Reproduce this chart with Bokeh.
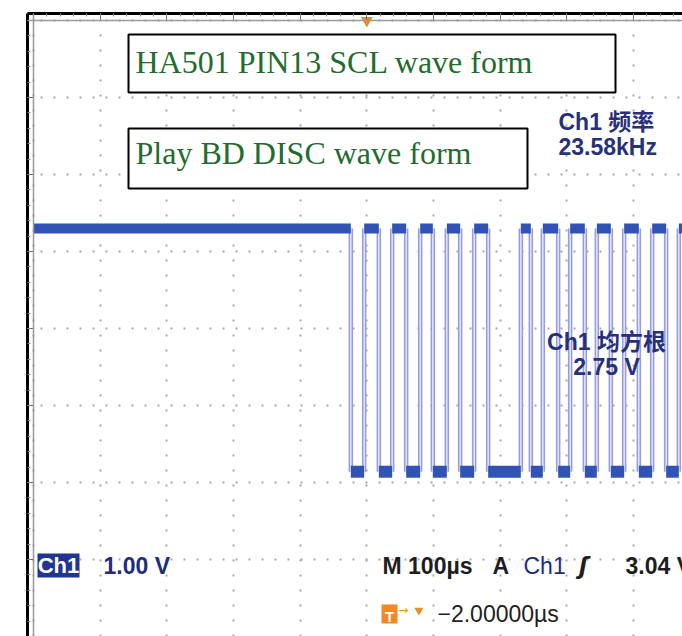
import numpy as np
from bokeh.plotting import figure
from bokeh.models import Range1d, FixedTicker, Span
from bokeh.core.properties import value
from bokeh.embed import file_html
from bokeh.resources import INLINE

# ---- scope settings / data ----
time_per_div_us = 100          # M 100us
volts_per_div = 1.00           # Ch1 1.00 V
ground_div = -1.86             # position of 0 V on screen (divisions from centre)
high_v = 3.16                  # SCL high level (V)
low_v = 0.0                    # SCL low level (V)
trace_start_us = 0
trace_end_us = 1000
# times (us from left edge of screen) where SCL toggles; starts high
edge_times_us = [476, 496, 518, 538, 559, 580, 599, 620, 640, 661, 682,
                 731, 746, 764, 787, 805, 827, 845, 866, 886, 908, 928, 949, 968]

x_ticks = list(range(0, 1001, time_per_div_us))
x_minor = list(range(0, 1001, time_per_div_us // 5))
y_ticks = list(range(-4, 5))
y_minor = [round(v, 1) for v in np.arange(-4, 4.01, 0.2)]

title1 = "HA501 PIN13 SCL wave form"
title2 = "Play BD DISC wave form"
freq_label = ["Ch1 频率", "23.58kHz"]
rms_label = ["Ch1 均方根", "2.75 V"]
ch_scale = "1.00 V"
timebase = "M 100µs"
trig_src = ["A", "Ch1"]
trig_level = "3.04 V"
trig_pos = "−2.00000µs"


def to_div(v):
    return v / volts_per_div + ground_div


p = figure(width=682, height=636, output_backend="svg", toolbar_location=None,
           x_range=Range1d(-9, 973.5), y_range=Range1d(-4.0, 4.091),
           min_border_left=27, min_border_top=13, min_border_right=0, min_border_bottom=0,
           x_axis_location="above", background_fill_color="white",
           border_fill_color="white", outline_line_color=None)

for ax, tk, mn in ((p.xaxis[0], x_ticks, x_minor), (p.yaxis[0], y_ticks, y_minor)):
    ax.ticker = FixedTicker(ticks=tk, minor_ticks=mn)
    ax.axis_line_color = "black"
    ax.axis_line_width = 3
    ax.major_tick_in = 6
    ax.major_tick_out = 0
    ax.minor_tick_in = 3
    ax.minor_tick_out = 0
    ax.major_tick_line_color = "#666666"
    ax.minor_tick_line_color = "#888888"
    ax.major_label_text_font_size = "0px"
    ax.major_label_text_alpha = 0
    ax.major_label_standoff = 0

p.xgrid.grid_line_color = "#a8a8a8"
p.xgrid.grid_line_width = 2
p.xgrid.grid_line_dash = "2 13"
p.ygrid.grid_line_color = "#a8a8a8"
p.ygrid.grid_line_width = 2
p.ygrid.grid_line_dash = "2 11"

p.add_layout(Span(location=x_ticks[0], dimension="height", line_color="#9a9a9a", line_width=1.5))
p.add_layout(Span(location=y_ticks[-1], dimension="width", line_color="#9a9a9a", line_width=1.5))

# ---- trace ----
bounds = [trace_start_us] + edge_times_us + [trace_end_us]
hx0, hx1, hy = [], [], []
lx0, lx1, ly = [], [], []
for i in range(len(bounds) - 1):
    if i % 2 == 0:
        hx0.append(bounds[i]); hx1.append(bounds[i + 1]); hy.append(to_div(high_v))
    else:
        lx0.append(bounds[i]); lx1.append(bounds[i + 1]); ly.append(to_div(low_v))

ey0 = [to_div(low_v)] * len(edge_times_us)
ey1 = [to_div(high_v)] * len(edge_times_us)
p.segment(x0=edge_times_us, y0=ey0, x1=edge_times_us, y1=ey1, line_color="#979ddf", line_width=4.5)
p.segment(x0=edge_times_us, y0=ey0, x1=edge_times_us, y1=ey1, line_color="#eef0fa", line_width=1.3)
p.segment(x0=hx0, y0=hy, x1=hx1, y1=hy, line_color="#3153b6", line_width=10)
p.segment(x0=lx0, y0=ly, x1=lx1, y1=ly, line_color="#3153b6", line_width=12)

# ---- annotation boxes ----
p.quad(left=[142.5, 142.5], right=[873, 741], top=[3.818, 2.597], bottom=[3.065, 1.818],
       fill_color="white", line_color="black", line_width=2)
p.text(x=[153, 153], y=[3.455, 2.273], text=[title1, title2],
       text_font=value("Liberation Serif"), text_font_size="32px", text_color="#236b2e",
       text_align="left", text_baseline="alphabetic")

navy = "#27307a"
cjk = value("Liberation Sans, Noto Sans CJK SC")
p.text(x=[787.5, 787.5], y=[2.681, 2.357], text=freq_label, text_font=cjk,
       text_font_size="23px", text_font_style="bold", text_color=navy,
       text_align="left", text_baseline="alphabetic")
p.text(x=[859.5, 859.5], y=[-0.179, -0.495], text=rms_label, text_font=cjk,
       text_font_size="23px", text_font_style="bold", text_color=navy,
       text_align="center", text_baseline="alphabetic")

# ---- status line ----
status_y = -3.085
p.quad(left=[6], right=[69], top=[-2.922], bottom=[-3.234], fill_color="#1f3590", line_color=None)
p.text(x=[37.5], y=[status_y + 0.01], text=["Ch1"], text_font=value("Liberation Sans"), text_font_size="22px",
       text_font_style="bold", text_color="white", text_align="center", text_baseline="alphabetic")
p.text(x=[105], y=[status_y], text=[ch_scale], text_font=value("Liberation Sans"), text_font_size="23px",
       text_font_style="bold", text_color="#1f2c80", text_align="left", text_baseline="alphabetic")
p.text(x=[523.5, 688.5, 888], y=[status_y] * 3, text=[timebase, trig_src[0], trig_level],
       text_font=value("Liberation Sans"), text_font_size="23px", text_font_style="bold",
       text_color="#1e1e1e", text_align="left", text_baseline="alphabetic")
p.text(x=[735], y=[status_y], text=[trig_src[1]], text_font=value("Liberation Sans"), text_font_size="23px",
       text_color="#1f2c80", text_align="left", text_baseline="alphabetic")
p.text(x=[818], y=[status_y], text=["ʃ"], text_font=value("DejaVu Sans"), text_font_size="23px",
       text_font_style="bold italic", text_color="#1e1e1e", text_align="left", text_baseline="alphabetic")
p.text(x=[606], y=[-3.713], text=[trig_pos], text_font=value("Liberation Sans"), text_font_size="23px",
       text_color="#1e1e1e", text_align="left", text_baseline="alphabetic")

# trigger position icon
orange = "#ef8a26"
p.quad(left=[522], right=[546], top=[-3.584], bottom=[-3.831], fill_color=orange, line_color=None)
p.text(x=[534], y=[-3.745], text=["T"], text_font=value("Liberation Sans"), text_font_size="15px",
       text_font_style="bold", text_color="white", text_align="center", text_baseline="alphabetic")
p.text(x=[547], y=[-3.66], text=["→"], text_font=value("DejaVu Sans"), text_font_size="12px",
       text_color=orange, text_align="left", text_baseline="middle")
p.scatter(x=[578], y=[-3.66], marker="inverted_triangle", size=9, fill_color=orange, line_color=None)

# trigger marker at top
p.scatter(x=[500], y=[4.0], marker="inverted_triangle", size=12, fill_color=orange, line_color=None)

open("out.html", "w").write(file_html(p, INLINE))
